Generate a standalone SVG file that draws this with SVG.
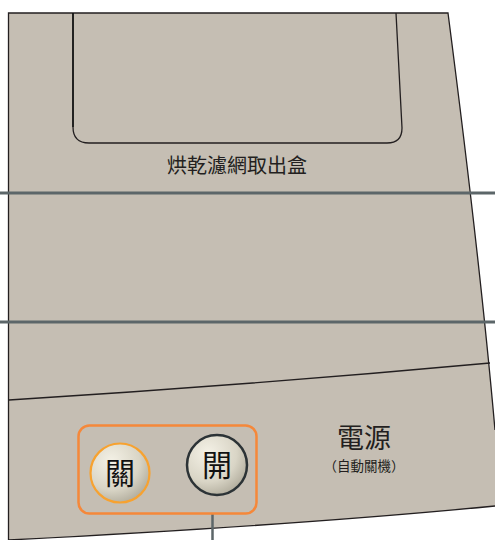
<svg xmlns="http://www.w3.org/2000/svg" width="495" height="540" viewBox="0 0 495 540">
<style>
.edge{fill:none;stroke:#231f20;stroke-width:1.3}
.gray{stroke:#5c6669;stroke-width:3}
.lbl{font-family:"Noto Sans CJK TC","Noto Sans CJK SC",sans-serif;fill:#231f20;text-anchor:middle}
.btn{font-family:"Noto Sans CJK TC","Noto Sans CJK SC",sans-serif;fill:#111;text-anchor:middle;font-size:30px}
</style>
<defs>
<radialGradient id="bg" cx="0.35" cy="0.3" r="0.8">
<stop offset="0" stop-color="#f4f1e6"/>
<stop offset="0.6" stop-color="#d9d5c6"/>
<stop offset="1" stop-color="#aaa595"/>
</radialGradient>
</defs>
<rect width="495" height="540" fill="#ffffff"/>
<g id="body">
<path d="M8.5,13 L448,13 Q480,260 495,430 L495,506 Q300,525 8.5,540 Z" fill="#c5beb3" stroke="none"/>
<path class="edge" d="M8.5,540 L8.5,13 L448,13 Q480,260 495,430"/>
<path class="edge" d="M8.5,540 Q300,525 495,506"/>
<path class="edge" d="M9,400 Q250,385 490,363"/>
</g>
<g id="tray">
<path d="M73,13 L73,127" fill="none" stroke="#111" stroke-width="1.8"/>
<path class="edge" d="M73,127 Q73,143 89,143 L387,143 Q402,143 402,128 L396,13"/>
<text class="lbl" x="237" y="173" font-size="20">烘乾濾網取出盒</text>
</g>
<g id="connectors">
<line class="gray" x1="0" y1="193" x2="495" y2="193"/>
<line class="gray" x1="0" y1="322" x2="495" y2="322"/>
<line x1="212.5" y1="514" x2="212.5" y2="540" stroke="#5c6669" stroke-width="2.5"/>
</g>
<g id="power-panel">
<rect x="78.5" y="425.5" width="178" height="88" rx="11" fill="none" stroke="#f5883a" stroke-width="2.5"/>
</g>
<g id="btn-off">
<circle cx="120" cy="473" r="29.5" fill="url(#bg)" stroke="#f7a230" stroke-width="2.2"/>
<text class="btn" x="120" y="484">關</text>
</g>
<g id="btn-on">
<circle cx="217" cy="465" r="30" fill="url(#bg)" stroke="#2c3336" stroke-width="2.5"/>
<text class="btn" x="217" y="476">開</text>
</g>
<g id="power-label">
<text class="lbl" x="364" y="448" font-size="27">電源</text>
<text class="lbl" x="364" y="471" font-size="13.5">（自動關機）</text>
</g>
</svg>
